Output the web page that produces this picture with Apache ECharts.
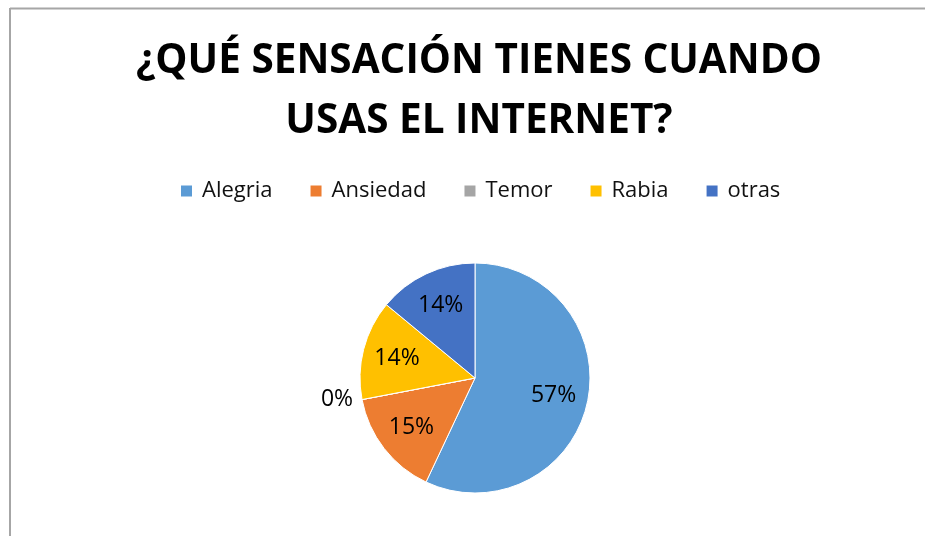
<!DOCTYPE html>
<html>
<head>
<meta charset="utf-8">
<script src="https://cdn.jsdelivr.net/npm/echarts@6/dist/echarts.min.js"></script>
<style>
  html, body { margin: 0; padding: 0; background: #fff; }
  #chart { width: 925px; height: 538px; }
</style>
</head>
<body>
<div id="chart"></div>
<script>
// datos
const categories = ['Alegria', 'Ansiedad', 'Temor', 'Rabia', 'otras'];
const values = [57, 15, 0, 14, 14];
const colors = ['#5B9BD5', '#ED7D31', '#A5A5A5', '#FFC000', '#4472C4'];

const font = '"Open Sans", "Noto Sans", sans-serif';

let myChart = echarts.init(document.getElementById('chart'));

let pieData = [];
let labelData = [];
for (let i = 0; i < categories.length; i++) {
  pieData.push({ name: categories[i], value: values[i], itemStyle: { color: colors[i] } });
  let item = { name: categories[i], value: values[i] };
  if (values[i] === 0) {
    // el 0% queda fuera del pastel
    item.label = { position: 'outside' };
  }
  labelData.push(item);
}

let option = {
  animation: false,
  title: {
    text: '¿QUÉ SENSACIÓN TIENES CUANDO\nUSAS EL INTERNET?',
    left: 474,
    top: 26,
    textAlign: 'center',
    textStyle: {
      fontFamily: font,
      fontWeight: 'bold',
      fontSize: 40.5,
      lineHeight: 60,
      color: '#000'
    }
  },
  legend: {
    data: categories,
    left: 174,
    top: 175,
    icon: 'rect',
    itemWidth: 13,
    itemHeight: 13,
    itemGap: 36,
    textStyle: {
      fontFamily: font,
      fontSize: 22,
      color: '#111',
      padding: [0, 0, 0, 4]
    }
  },
  graphic: [
    {
      type: 'line',
      shape: { x1: 10, y1: 8.5, x2: 925, y2: 8.5 },
      style: { stroke: '#a6a6a6', lineWidth: 2 }
    },
    {
      type: 'line',
      shape: { x1: 10, y1: 8, x2: 10, y2: 536 },
      style: { stroke: '#a6a6a6', lineWidth: 2 }
    }
  ],
  series: [
    {
      name: 'sensacion',
      type: 'pie',
      center: [475, 378],
      radius: [0, 115],
      startAngle: 90,
      clockwise: true,
      silent: true,
      itemStyle: { borderColor: '#fff', borderWidth: 1 },
      label: { show: false },
      labelLine: { show: false },
      data: pieData
    },
    {
      name: 'etiquetas',
      type: 'pie',
      center: [475, 378],
      radius: [40, 115],
      startAngle: 90,
      clockwise: true,
      silent: true,
      itemStyle: { color: 'transparent' },
      label: {
        show: true,
        position: 'inside',
        formatter: '{d}%',
        fontFamily: font,
        fontSize: 23,
        color: '#000'
      },
      labelLine: { show: false, length: 2, length2: 2 },
      data: labelData
    }
  ]
};
myChart.setOption(option);
</script>
</body>
</html>
